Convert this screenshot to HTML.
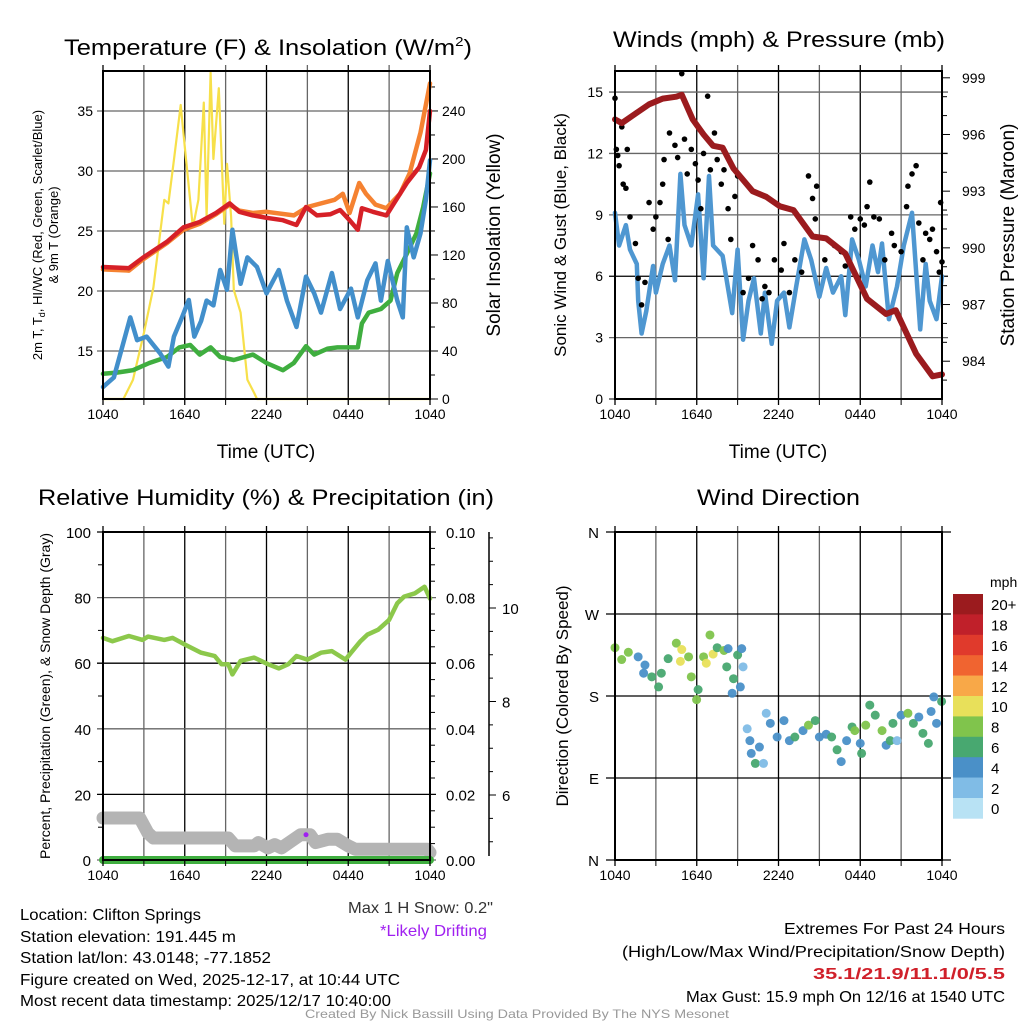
<!DOCTYPE html>
<html><head><meta charset="utf-8">
<style>
html,body{margin:0;padding:0;background:#fff;}
svg{display:block;font-family:"Liberation Sans",Arial,sans-serif;}
</style></head>
<body>
<svg id="fig" width="1024" height="1024" viewBox="0 0 1024 1024" xmlns="http://www.w3.org/2000/svg">
<rect width="1024" height="1024" fill="#fff"/>
<g id="layer"></g>
<!-- titles -->
<text x="64" y="55" font-size="22" textLength="408" lengthAdjust="spacingAndGlyphs">Temperature (F) &amp; Insolation (W/m<tspan font-size="13" dy="-9">2</tspan><tspan dy="9">)</tspan></text>
<text x="613" y="47" font-size="22" textLength="332" lengthAdjust="spacingAndGlyphs">Winds (mph) &amp; Pressure (mb)</text>
<text x="38" y="505" font-size="22" textLength="456" lengthAdjust="spacingAndGlyphs">Relative Humidity (%) &amp; Precipitation (in)</text>
<text x="697" y="505" font-size="22" textLength="163" lengthAdjust="spacingAndGlyphs">Wind Direction</text>
<!-- axis titles -->
<text x="266" y="458" font-size="19" text-anchor="middle">Time (UTC)</text>
<text x="778" y="458" font-size="19" text-anchor="middle">Time (UTC)</text>
<text transform="translate(42,235) rotate(-90)" font-size="13" text-anchor="middle">2m T, T<tspan font-size="9" dy="3">d</tspan><tspan dy="-3">, HI/WC (Red, Green, Scarlet/Blue)</tspan></text>
<text transform="translate(58,235) rotate(-90)" font-size="13" text-anchor="middle">&amp; 9m T (Orange)</text>
<text transform="translate(500,235) rotate(-90)" font-size="19" text-anchor="middle">Solar Insolation (Yellow)</text>
<text transform="translate(566,235) rotate(-90)" font-size="17" text-anchor="middle">Sonic Wind &amp; Gust (Blue, Black)</text>
<text transform="translate(1014,235) rotate(-90)" font-size="19" text-anchor="middle">Station Pressure (Maroon)</text>
<text transform="translate(50,696) rotate(-90)" font-size="14" text-anchor="middle">Percent, Precipitation (Green), &amp; Snow Depth (Gray)</text>
<text transform="translate(568,696) rotate(-90)" font-size="17" text-anchor="middle">Direction (Colored By Speed)</text>
<!-- footer texts -->
<g font-size="16">
<text x="20" y="920" textLength="181" lengthAdjust="spacingAndGlyphs">Location: Clifton Springs</text>
<text x="20" y="942" textLength="216" lengthAdjust="spacingAndGlyphs">Station elevation: 191.445 m</text>
<text x="20" y="963" textLength="251" lengthAdjust="spacingAndGlyphs">Station lat/lon: 43.0148; -77.1852</text>
<text x="20" y="985" textLength="380" lengthAdjust="spacingAndGlyphs">Figure created on Wed, 2025-12-17, at 10:44 UTC</text>
<text x="20" y="1006" textLength="371" lengthAdjust="spacingAndGlyphs">Most recent data timestamp: 2025/12/17 10:40:00</text>
<text x="348" y="913" fill="#333" textLength="145" lengthAdjust="spacingAndGlyphs">Max 1 H Snow: 0.2"</text>
<text x="380" y="936" fill="#a020f0" textLength="107" lengthAdjust="spacingAndGlyphs">*Likely Drifting</text>
<text x="784" y="934" textLength="221" lengthAdjust="spacingAndGlyphs">Extremes For Past 24 Hours</text>
<text x="622" y="957" textLength="383" lengthAdjust="spacingAndGlyphs">(High/Low/Max Wind/Precipitation/Snow Depth)</text>
<text x="813" y="979" fill="#d0202a" font-weight="bold" textLength="192" lengthAdjust="spacingAndGlyphs">35.1/21.9/11.1/0/5.5</text>
<text x="686" y="1002" textLength="319" lengthAdjust="spacingAndGlyphs">Max Gust: 15.9 mph On 12/16 at 1540 UTC</text>
</g>
<text x="305" y="1018" font-size="12" fill="#999" textLength="424" lengthAdjust="spacingAndGlyphs">Created By Nick Bassill Using Data Provided By The NYS Mesonet</text>
</svg>
<script>
// ---------- data ----------
const timeTicks = ["1040","1640","2240","0440","1040"];
// Panel 1
const redH = [0,1.9,2.9,4.7,5.9,7.1,8.3,9.3,10,11,12,13.2,14.2,14.9,15.7,16.7,17.4,18.1,18.7,19,19.8,20.8,21.3,22.3,23.2,23.7,24];
const redT = [22,21.9,22.75,24.1,25.3,25.75,26.5,27.3,26.6,26.3,26.1,25.9,25.5,27,26.3,26.4,26.75,25.9,25.1,26.9,26.6,26.3,27.2,29,30.3,31.75,35];
const orangeH = [0,1.9,2.9,4.7,5.9,7.1,8.3,9.3,10,11,12,14,15,17,17.6,18.1,18.8,19.3,20,20.8,21.8,22.5,23.3,24];
const orangeT = [21.8,21.7,22.6,24,25.1,25.6,26.4,27.2,26.7,26.5,26.6,26.3,27,27.6,28.1,26.5,29,28.1,27.2,26.9,28.1,29.8,33.2,37.3];
const blueH = [0,0.8,1.5,2,2.5,3.2,4.2,4.8,5.2,5.8,6.3,6.7,7.2,7.6,8.1,8.6,9.1,9.5,10.1,10.6,11.3,12,12.9,13.5,14.2,14.9,15.5,16,16.8,17.4,18.2,18.7,19.4,20,20.4,20.9,21.6,22,22.3,22.8,23.3,23.7,24];
const blueT = [12,12.8,15.7,17.8,15.9,16.2,14.8,13.7,16.2,17.8,19.25,16.2,17.5,19.2,18.8,21.75,20.1,25.1,20.6,22.8,22,19.8,21.75,19.2,17,21.2,19.8,18.2,21.5,18.5,20.2,17.8,20.9,22.3,19.2,22.5,19.2,17.8,25.3,22.8,24.8,27.6,30.9];
const greenH = [0,1,2.2,3.4,4.7,5.6,6.4,7.1,7.9,8.6,9.6,11,12,13.2,14,14.9,15.5,16.5,17.2,18,18.7,19,19.5,20.4,21.1,21.6,22.3,23,23.5,24];
const greenT = [13.1,13.2,13.4,14,14.5,15.3,15.5,14.7,15.3,14.5,14.25,14.7,14,13.4,14,15.4,14.7,15.2,15.3,15.3,15.3,17.3,18.2,18.5,19.2,21.5,23.1,24.8,27,29.8];
const solarH = [0,1.5,2.2,3,3.7,4.5,4.8,5.2,5.7,6,6.6,7,7.4,7.6,7.9,8.1,8.5,8.9,9.1,9.4,9.6,10.1,10.6,11.1,11.3,24];
const solarW = [0,0,16,55,93,166,163,199,245,210,143,166,247,152,272,200,259,146,196,152,91,72,16,5,0,0];
// Panel 2
const windH = [0,0.3,0.8,1.1,1.6,1.7,1.95,2.3,2.8,3,3.5,4,4.4,4.8,5.1,5.6,6.1,6.5,6.9,7.2,7.9,8.6,9,9.4,9.8,10.2,10.7,11,11.5,11.9,12.4,12.8,13.3,13.9,14.4,15,15.5,16,16.6,16.9,17.4,17.9,18.4,18.9,19.3,19.6,20.1,20.7,21.2,21.8,22.4,22.8,23.1,23.6,24];
const windS = [9.1,7.5,8.5,7.3,6.6,4.8,3.2,4.3,6.5,5.2,6.6,7.5,5.8,11,8.5,7.5,10,5.9,10.9,7.5,7,4.2,7.3,2.9,4.8,5.9,3.2,5.2,2.7,4.8,5.2,3.5,5.5,7.8,6.8,5,6.4,5.2,6,4.1,7.8,6.8,5.5,7.5,6.2,7.6,3.9,5.5,7.5,9.1,3.4,6.6,4.8,3.9,6];
const gustH = [0,0.1,0.2,0.3,0.5,0.6,0.8,0.9,1.1,1.5,1.7,1.95,2.2,2.5,2.8,3,3.3,3.5,3.6,3.9,4,4.4,4.6,4.9,5.1,5.3,5.6,5.9,6.1,6.3,6.5,6.8,7,7.3,7.5,7.8,8,8.3,8.5,8.8,9,9.4,9.8,10.1,10.5,10.8,11,11.3,11.7,12.2,12.4,12.8,13.2,13.7,14.2,14.5,14.8,14.7,15.4,16.1,16.6,16.9,17.3,17.6,18,18.3,18.5,18.7,19,19.4,19.8,20.3,20.5,21,21.4,21.5,21.8,22.1,22.3,22.6,22.8,23.1,23.3,23.6,23.8,23.9,24];
const gustS = [14.7,12.2,11.9,11.4,13.3,10.5,10.3,12.2,8.9,7.6,5.9,4.6,5.7,9.6,8.3,8.9,9.6,10.5,11.7,7.8,13,12.4,11.8,15.9,12.7,11,12.2,11.5,10.7,9.3,12,14.8,11.2,13,11.7,10.5,11.2,9.3,7.8,9.9,10.9,5.2,5.9,7.5,6.8,4.9,5.5,5.2,6.8,6.3,7.6,5.2,6.8,6.2,10.9,9.8,10.4,8.8,6.8,7.5,7.2,6.5,8.9,8.3,8.8,8.5,9.4,10.6,8.9,8.8,6.8,8.1,7.5,7.2,9.4,10.4,11,11.4,8.6,6.8,8.1,7.8,8.3,7.2,6.2,9.6,6.7];
const presH = [0,0.5,1.5,2.5,3.5,4.5,4.9,5.7,6.5,7.2,7.9,8.7,10.1,11.1,12.1,13.1,14.5,15.5,16.9,18.5,19.9,20.6,22.1,23.3,24];
const presP = [996.8,996.6,997.1,997.6,997.9,998.0,998.1,996.8,996.0,995.4,995.3,994.2,993.0,992.7,992.2,992.0,990.6,990.5,989.7,987.3,986.5,986.7,984.4,983.2,983.3];
// Panel 3
const rhH = [0,0.7,1.9,2.9,3.3,4.5,5.1,6,7.2,8.2,8.7,9.2,9.5,10.1,11.1,12.1,12.9,13.6,14.2,15,16,16.8,17.8,18.2,18.9,19.4,20.2,21,21.6,22.1,22.9,23.6,24];
const rhV = [67.7,66.7,68.3,67.1,68.1,67.1,67.7,65.7,63.2,62.2,59.7,59.7,56.6,60.7,61.7,59.7,58.4,59.7,62.2,61.1,63.2,63.7,61.1,63.2,66.7,68.7,70.2,73.2,78.3,80.3,81.3,83.3,79.7];
const snowH = [0,2.7,3.3,3.7,9.2,9.7,11.1,11.4,12.1,12.6,13.1,13.8,14.5,15.2,15.6,16.5,17.2,18,18.5,23.8,24];
const snowV = [12.8,12.8,8.2,6.7,6.7,4.3,4.3,5.3,3.7,4.7,3.7,5.7,7.7,7.7,5.3,6.3,6.3,4.3,3.3,3.3,2.3];
const precipH = [0,24];
const precipV = [0,0];
const driftH = [14.9];
const driftV = [7.7];
// Panel 4
const dirH = [0,0.49,0.98,1.7,2.2,2.1,2.7,3.2,3.4,3.9,4.5,4.9,4.8,5.4,5.6,5.99,6.1,6.5,6.7,6.97,7.2,7.5,8,8.3,8.2,8.7,8.6,9,9.3,9.4,9.2,9.7,9.9,10,10.3,10.6,10.9,11.1,11.4,11.9,12.4,12.8,13.2,13.8,14.2,14.7,15,15.5,15.9,16.3,16.6,17,17.4,17.6,18,18.1,18.4,18.7,19.1,19.6,19.9,20.2,20.4,20.7,21,21.5,21.9,22.3,22.6,23,23.2,23.4,23.6,23.97];
const dirDeg = [233,220,228,223,214,205,201,190,205,221,238,231,218,223,201,176,187,223,216,247,226,233,230,232,212,199,183,225,232,212,190,144,131,117,106,124,106,161,150,135,153,131,135,142,148,153,135,138,135,121,108,131,146,142,128,117,148,170,159,142,126,131,150,131,159,161,150,157,139,128,163,179,150,174];
const dirSpd = [7.5,7.5,7.5,3.5,3.5,3.5,5,5,5,5,7.5,9,9,7.5,7.5,7.5,5,7.5,9,7.5,9,5,7.5,3.5,5,5,3.5,5,3.5,1.5,3.5,1.5,3.5,3.5,5,3.5,1.5,1.5,3.5,3.5,3.5,3.5,5,3.5,7.5,5,3.5,3.5,5,5,3.5,3.5,5,7.5,3.5,5,7.5,5,5,7.5,3.5,5,5,1.5,3.5,7.5,5,3.5,5,5,3.5,3.5,3.5,5];
const cbLabels = ["20+","18","16","14","12","10","8","6","4","2","0"];
const cbColors = ["#9b1b1e","#c0202a","#e03a2c","#f06430","#f8a848","#e8e05a","#80c44c","#48a870","#4a90c8","#80bce6","#b8e2f4"];

// ---------- helpers ----------
const NS="http://www.w3.org/2000/svg";
const layer=document.getElementById('layer');
function mk(tag,attrs,parent){const e=document.createElementNS(NS,tag);for(const k in attrs)e.setAttribute(k,attrs[k]);(parent||layer).appendChild(e);return e;}
function lin(d0,d1,r0,r1){return v=>r0+(v-d0)*(r1-r0)/(d1-d0);}
function pathD(xs,ys,sx,sy){return xs.map((h,i)=>(i?'L':'M')+sx(h).toFixed(1)+','+sy(ys[i]).toFixed(1)).join('');}
function vgrid(sx,y0,y1){for(let h=0;h<=24;h+=3){const l=mk('line',{x1:sx(h),x2:sx(h),y1:y0-6,y2:y1,stroke:(h%6==0)?'#000':'#666','stroke-width':1.3});

}}
function hline(x0,x1,y,col){const l=mk('line',{x1:x0,x2:x1,y1:y,y2:y,stroke:col||'#666','stroke-width':1.3});

}
function label(x,y,t,anchor,size,name){const e=mk('text',{x:x,y:y,'font-size':size||14,'text-anchor':anchor||'middle'});e.textContent=t;

return e;}
function frame(x0,y0,x1,y1){const r=mk('rect',{x:x0,y:y0,width:x1-x0,height:y1-y0,fill:'none',stroke:'#000','stroke-width':2});

}
function xticks(sx,yb){timeTicks.forEach((t,i)=>{const h=i*6;mk('line',{x1:sx(h),x2:sx(h),y1:yb,y2:yb+6,stroke:'#000','stroke-width':1.3});label(sx(h),yb+20,t,'middle',14,'x-tick-label');});
for(let h=3;h<24;h+=6)mk('line',{x1:sx(h),x2:sx(h),y1:yb,y2:yb+6,stroke:'#000','stroke-width':1});}
function series(xs,ys,sx,sy,col,w,name){const p=mk('path',{d:pathD(xs,ys,sx,sy),fill:'none',stroke:col,'stroke-width':w,'stroke-linejoin':'round','stroke-linecap':'round'});

return p;}

// ---------- panel 1 ----------
(function(){
const x0=103,x1=430,y0=71,y1=399;
const sx=lin(0,24,x0,x1), sy=lin(11,38.33,y1,y0), sw=lin(0,273.3,y1,y0);
vgrid(sx,y0,y1);
[15,20,25,30,35].forEach(v=>{hline(x0-6,x1,sy(v),'#666');label(x0-10,sy(v)+5,String(v),'end',14,'temp-y-tick-label');});
for(let v=0;v<=260;v+=20){const y=sw(v);mk('line',{x1:x1,x2:x1+(v%40==0?8:5),y1:y,y2:y,stroke:'#000','stroke-width':1});if(v%40==0)label(x1+12,y+5,String(v),'start',14,'solar-y-tick-label');}
series(solarH,solarW,sx,sw,'#f7e04a',2.2,'solar-insolation-line');
series(greenH,greenT,sx,sy,'#3fae3f',4.5,'dewpoint-line');
series(blueH,blueT,sx,sy,'#428fcb',4.5,'wind-chill-line');
series(orangeH,orangeT,sx,sy,'#f58231',4.5,'9m-temperature-line');
series(redH,redT,sx,sy,'#d62027',4.5,'2m-temperature-line');
frame(x0,y0,x1,y1);
xticks(sx,y1);
})();

// ---------- panel 2 ----------
(function(){
const x0=615,x1=942,y0=71,y1=399;
const sx=lin(0,24,x0,x1), sy=lin(0,16.03,y1,y0), sp=lin(982,999.36,y1,y0);
vgrid(sx,y0,y1);
[0,3,6,9,12,15].forEach(v=>{if(v>0)hline(x0-6,x1+6,sy(v),v==6?'#000':'#666');else mk('line',{x1:x0-6,x2:x0,y1:sy(v),y2:sy(v),stroke:'#000'});label(x0-12,sy(v)+5,String(v),'end',14,'wind-y-tick-label');});
for(let v=983;v<=999;v++){const y=sp(v);const major=(v-984)%3==0;mk('line',{x1:x1,x2:x1+(major?8:5),y1:y,y2:y,stroke:'#000','stroke-width':1});if(major)label(x1+20,y+5,String(v),'start',14,'pressure-y-tick-label');}
series(windH,windS,sx,sy,'#4f97d1',4.5,'sonic-wind-line');
gustH.forEach((h,i)=>{const c=mk('circle',{cx:sx(h),cy:sy(gustS[i]),r:2.8,fill:'#000'});

});
series(presH,presP,sx,sp,'#9b1b1e',6,'pressure-line');
frame(x0,y0,x1,y1);
xticks(sx,y1);
})();

// ---------- panel 3 ----------
(function(){
const x0=103,x1=430,y0=532,y1=860;
const sx=lin(0,24,x0,x1), sy=lin(0,100,y1,y0);
vgrid(sx,y0,y1);
[0,20,40,60,80,100].forEach(v=>{hline(x0-6,x1+6,sy(v),(v==20||v==60||v==100)?'#000':'#666');label(x0-12,sy(v)+6,String(v),'end',15,'rh-y-tick-label');label(x1+16,sy(v)+6,(v/1000).toFixed(2),'start',15,'precip-y-tick-label');});
for(let v=10;v<100;v+=20){mk('line',{x1:x0-5,x2:x0,y1:sy(v),y2:sy(v),stroke:'#000'});}
for(let v=5;v<100;v+=5){if(v%20)mk('line',{x1:x1,x2:x1+5,y1:sy(v),y2:sy(v),stroke:'#000'});}
// snow axis
const ax=mk('line',{x1:489,x2:489,y1:532,y2:856,stroke:'#000','stroke-width':1.5});


const ss=lin(6,10,795,608);
for(let v=4;v<=11.5;v+=0.5){const y=ss(v);if(y<532||y>856)continue;const maj=(v%2==0);mk('line',{x1:489,x2:489+(maj?7:4),y1:y,y2:y,stroke:'#000'});if(maj)label(502,y+6,String(v),'start',15,'snow-y-tick-label');}
series(snowH,snowV,sx,sy,'#b4b4b4',13,'snow-depth-line');
series(precipH,precipV,sx,sy,'#3fae3f',8,'precipitation-line');
series(rhH,rhV,sx,sy,'#8cc84b',4.5,'relative-humidity-line');
driftH.forEach((h,i)=>{const c=mk('circle',{cx:sx(h),cy:sy(driftV[i]),r:2.5,fill:'#a020f0'});

});
frame(x0,y0,x1,y1);
xticks(sx,y1);
})();

// ---------- panel 4 ----------
(function(){
const x0=615,x1=942,y0=532,y1=860;
const sx=lin(0,24,x0,x1), sy=lin(0,360,y1,y0);
vgrid(sx,y0,y1);
const dl=["N","E","S","W","N"];
[0,90,180,270,360].forEach((v,i)=>{hline(x0-9,x1+9,sy(v),'#000');label(x0-16,sy(v)+6,dl[i],'end',15,'direction-tick-label');});
function colIdx(s){return Math.min(10,Math.floor((s+1)/2));}
dirH.forEach((h,i)=>{const c=mk('circle',{cx:sx(h),cy:sy(dirDeg[i]),r:4.5,fill:cbColors[10-colIdx(dirSpd[i])],opacity:0.95});

});
frame(x0,y0,x1,y1);
xticks(sx,y1);
// colorbar
const cb0=594,bh=20.4;
cbColors.forEach((c,i)=>{const r=mk('rect',{x:953,y:cb0+i*bh,width:30,height:bh+0.3,fill:c});


label(991,cb0+i*bh+bh/2+6,cbLabels[i],'start',15,'colorbar-label');});
label(990,587,'mph','start',14,'colorbar-title');
})();
</script>
</body></html>
